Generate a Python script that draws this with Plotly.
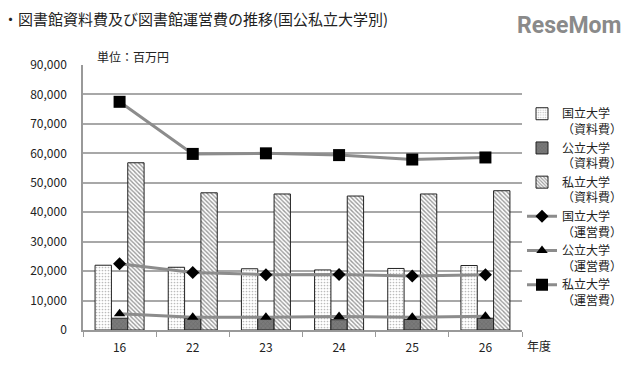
import plotly.graph_objects as go

years = ["16", "22", "23", "24", "25", "26"]
nat_material = [22000, 21300, 20800, 20400, 20900, 21900]
pub_material = [4000, 3900, 3900, 3500, 3600, 4000]
pri_material = [56800, 46600, 46200, 45500, 46200, 47300]
nat_ops = [22500, 19500, 18800, 18850, 18300, 18800]
pub_ops = [5500, 4300, 4300, 4600, 4300, 4700]
pri_ops = [77500, 59800, 60000, 59400, 57900, 58600]

names_mat = ["国立大学<br>（資料費）", "公立大学<br>（資料費）", "私立大学<br>（資料費）"]
names_ops = ["国立大学<br>（運営費）", "公立大学<br>（運営費）", "私立大学<br>（運営費）"]

FONT = "Noto Sans CJK JP"
fig = go.Figure()

bar_styles = [
    dict(color="white", pattern=dict(shape=".", fgcolor="#777777", size=3, solidity=0.25)),
    dict(color="#7a7a7a", pattern=dict(shape="x", fgcolor="#555555", size=3, solidity=0.3)),
    dict(color="white", pattern=dict(shape="\\", fgcolor="#333333", size=3, solidity=0.45)),
]
for vals, nm, st in zip([nat_material, pub_material, pri_material], names_mat, bar_styles):
    fig.add_trace(go.Bar(
        x=years, y=vals, name=nm,
        marker=dict(color=st["color"], pattern=st["pattern"],
                    line=dict(color="#222222", width=1)),
    ))

for vals, nm, sym, sz in zip([nat_ops, pub_ops, pri_ops], names_ops,
                             ["diamond", "triangle-up", "square"], [10, 10, 12]):
    fig.add_trace(go.Scatter(
        x=years, y=vals, name=nm, mode="lines+markers",
        line=dict(color="#8c8c8c", width=3),
        marker=dict(symbol=sym, size=sz, color="black"),
    ))

fig.update_layout(
    width=640, height=372,
    margin=dict(l=83, r=111, t=65, b=42),
    paper_bgcolor="white", plot_bgcolor="white",
    barmode="group", bargap=0.33, bargroupgap=0,
    font=dict(family=FONT, size=12, color="#222222"),
    showlegend=True,
    legend=dict(x=1.0, xanchor="left", y=0.87, yanchor="top",
                font=dict(family=FONT, size=12, color="#222222"),
                tracegroupgap=0, itemwidth=30, valign="top",
                bgcolor="rgba(0,0,0,0)"),
    xaxis=dict(type="category", showline=True, linecolor="#999999", linewidth=1.5,
               ticks="outside", tickson="boundaries", ticklen=5, tickcolor="#999999",
               ticklabelstandoff=6,
               tickfont=dict(family=FONT, size=12, color="#222222")),
    yaxis=dict(range=[0, 90000], dtick=10000, tickformat=",d",
               showgrid=True, gridcolor="#a8a8a8", gridwidth=1.5,
               showline=True, linecolor="#999999", linewidth=1.5,
               ticks="", ticklabelstandoff=12,
               tickfont=dict(family=FONT, size=12, color="#222222"),
               zeroline=False),
)

fig.add_annotation(text="・図書館資料費及び図書館運営費の推移(国公私立大学別)",
                   xref="paper", yref="paper", x=-83/446, y=1 + 47/265,
                   xanchor="left", yanchor="middle", showarrow=False,
                   font=dict(family=FONT, size=15, color="#222222"))
fig.add_annotation(text="単位：百万円", xref="paper", yref="paper",
                   x=12/446, y=1 + 9/265, xanchor="left", yanchor="middle",
                   showarrow=False, font=dict(family=FONT, size=12, color="#222222"))
fig.add_annotation(text="年度", xref="paper", yref="paper",
                   x=1 + 3/446, y=-15/265, xanchor="left", yanchor="middle",
                   showarrow=False, font=dict(family=FONT, size=12, color="#222222"))
fig.add_annotation(text="<b>ReseMom</b>", xref="paper", yref="paper",
                   x=1 + 103/446, y=1 + 40/265, xanchor="right", yanchor="middle",
                   showarrow=False, font=dict(family="Roboto", size=23, color="#8a8a8a"))

fig.write_html("out.html")
